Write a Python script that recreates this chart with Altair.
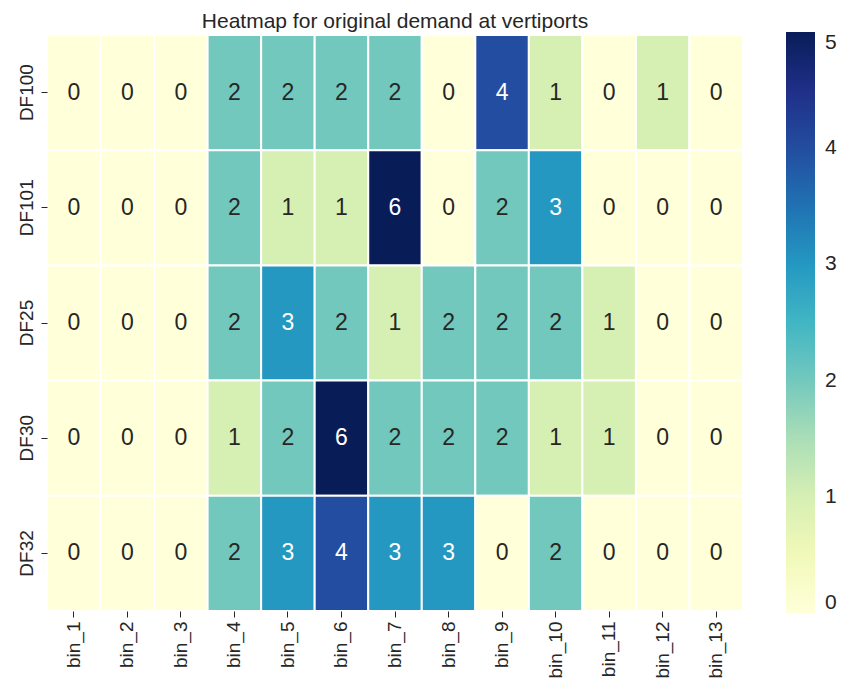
import altair as alt
import pandas as pd

bins = [f"bin_{i}" for i in range(1, 14)]
ports = ["DF100", "DF101", "DF25", "DF30", "DF32"]
values = [
    [0, 0, 0, 2, 2, 2, 2, 0, 4, 1, 0, 1, 0],
    [0, 0, 0, 2, 1, 1, 6, 0, 2, 3, 0, 0, 0],
    [0, 0, 0, 2, 3, 2, 1, 2, 2, 2, 1, 0, 0],
    [0, 0, 0, 1, 2, 6, 2, 2, 2, 1, 1, 0, 0],
    [0, 0, 0, 2, 3, 4, 3, 3, 0, 2, 0, 0, 0],
]
ylgnbu = ['#ffffd9', '#edf8b1', '#c7e9b4', '#7fcdbb', '#41b6c4',
          '#1d91c0', '#225ea8', '#253494', '#081d58']
vmin, vmax = 0, 5

rows = []
for p, row in zip(ports, values):
    for b, v in zip(bins, row):
        rows.append({"port": p, "bin": b, "value": v})
df = pd.DataFrame(rows)

font = "Liberation Sans"
dom = [vmin + (vmax - vmin) * i / 8 for i in range(9)]

base = alt.Chart(df).encode(
    x=alt.X("bin:N", sort=bins, title=None,
            axis=alt.Axis(labelAngle=-90, labelFontSize=19, labelColor="#262626",
                          domain=False, ticks=True, tickSize=6, tickColor="#262626",
                          labelPadding=4, labelFont=font)),
    y=alt.Y("port:N", sort=ports, title=None,
            axis=alt.Axis(labelAngle=-90, labelAlign="center", labelBaseline="bottom",
                          labelFontSize=19, labelColor="#262626", domain=False,
                          ticks=True, tickSize=6, tickColor="#262626",
                          labelPadding=5, labelFont=font)),
)

rect = base.mark_rect(stroke="white", strokeWidth=2).encode(
    color=alt.Color("value:Q",
                    scale=alt.Scale(domain=dom, range=ylgnbu, clamp=True, interpolate="rgb"),
                    legend=alt.Legend(title=None, orient="none", legendX=739, legendY=-3,
                                      gradientLength=581, gradientThickness=29,
                                      values=[0, 1, 2, 3, 4, 5], format="d",
                                      labelFontSize=21, labelColor="#262626", labelFont=font,
                                      gradientStrokeWidth=0, labelOffset=10))
)

text = base.mark_text(fontSize=23, font=font).encode(
    text=alt.Text("value:Q"),
    color=alt.condition("datum.value >= 3", alt.value("white"), alt.value("#262626")),
)

chart = (rect + text).properties(
    width=696, height=576,
    title=alt.TitleParams("Heatmap for original demand at vertiports", fontSize=21,
                          font=font, fontWeight="normal", color="#262626", offset=0),
    autosize=alt.AutoSizeParams(type="none"),
    padding={"left": 39, "top": 27, "right": 96, "bottom": 72},
).configure_view(stroke=None)

chart.save("out.html", embed_options={"renderer": "svg", "actions": False})
